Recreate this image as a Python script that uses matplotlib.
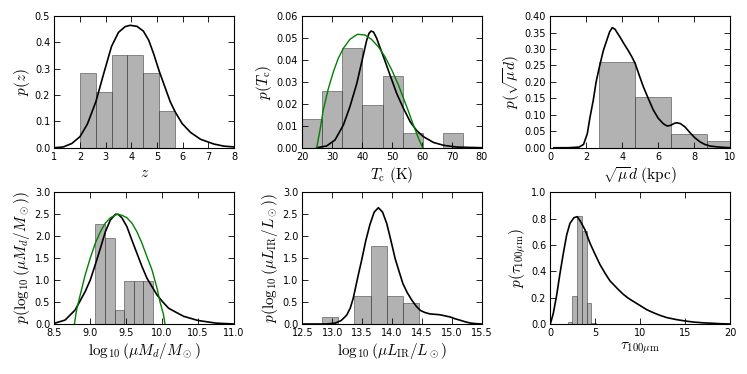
import matplotlib
matplotlib.use("Agg")
import matplotlib.pyplot as plt

plt.rcParams['mathtext.fontset'] = 'cm'
plt.rcParams['xtick.direction'] = 'in'
plt.rcParams['ytick.direction'] = 'in'
plt.rcParams['xtick.top'] = True
plt.rcParams['ytick.right'] = True
plt.rcParams['xtick.labelsize'] = 7
plt.rcParams['ytick.labelsize'] = 7
plt.rcParams['axes.linewidth'] = 0.8

# redshift
z_edges = [2.0, 2.617, 3.234, 3.851, 4.468, 5.085, 5.702]
z_hist = [0.283, 0.212, 0.354, 0.354, 0.283, 0.141]
z_x = [1.0, 1.35, 1.68, 2.0, 2.29, 2.62, 2.92, 3.23, 3.5, 3.76, 3.96, 4.22, 4.47,
       4.68, 4.87, 5.09, 5.33, 5.52, 5.71, 5.98, 6.31, 6.7, 7.22, 7.61, 8.0]
z_pdf = [0.0, 0.003, 0.016, 0.042, 0.09, 0.175, 0.28, 0.385, 0.438, 0.46, 0.465,
         0.461, 0.443, 0.408, 0.357, 0.29, 0.225, 0.174, 0.136, 0.092, 0.058, 0.032,
         0.014, 0.006, 0.003]

# dust temperature
t_edges = [20.0, 26.7, 33.4, 40.1, 46.8, 53.5, 60.2, 66.9, 73.6]
t_hist = [0.013, 0.026, 0.0455, 0.0195, 0.0325, 0.0065, 0.0, 0.0065]
t_x = [24.8, 28.1, 30.9, 33.7, 35.9, 38.2, 40.5, 41.5, 42.3, 43.0, 43.8, 44.8, 46.0,
       47.1, 49.3, 51.5, 53.8, 56.0, 58.2, 60.5, 63.8, 67.2, 71.6, 80.0]
t_pdf = [0.0, 0.0008, 0.0035, 0.0103, 0.0187, 0.0293, 0.043, 0.049, 0.0522, 0.0532,
         0.0527, 0.050, 0.0455, 0.0415, 0.0331, 0.0248, 0.0179, 0.0119, 0.0078, 0.005,
         0.0024, 0.0011, 0.0003, 0.0]
t_fit_x = [24.8, 25.9, 27.0, 28.7, 30.4, 32.0, 33.7, 35.9, 38.4, 40.9, 43.1, 45.4, 47.6,
           49.9, 52.1, 53.8, 55.5, 57.1, 58.8, 60.2]
t_fit = [0.0, 0.008, 0.0172, 0.027, 0.0347, 0.0407, 0.0453, 0.0494, 0.0517, 0.0514,
         0.0494, 0.046, 0.0415, 0.0354, 0.0286, 0.0225, 0.0164, 0.0103, 0.0043, 0.0]

# source size
d_edges = [2.73, 4.72, 6.71, 8.70, 10.69]
d_hist = [0.262, 0.153, 0.043, 0.021]
d_x = [0.2, 1.0, 1.6, 1.85, 2.06, 2.2, 2.39, 2.55, 2.73, 2.95, 3.14, 3.3, 3.45, 3.6,
       3.88, 4.1, 4.34, 4.55, 4.73, 4.95, 5.18, 5.45, 5.73, 6.0, 6.29, 6.5, 6.7, 6.9,
       7.05, 7.25, 7.5, 7.77, 8.05, 8.33, 8.6, 8.9, 9.4, 10.0]
d_pdf = [0.0, 0.0, 0.002, 0.01, 0.043, 0.09, 0.144, 0.2, 0.245, 0.295, 0.326, 0.352,
         0.365, 0.36, 0.336, 0.316, 0.295, 0.275, 0.255, 0.22, 0.185, 0.15, 0.115, 0.09,
         0.073, 0.066, 0.068, 0.074, 0.076, 0.073, 0.063, 0.046, 0.03, 0.018, 0.01,
         0.005, 0.002, 0.0]

# dust mass
m_edges = [9.073, 9.206, 9.339, 9.472, 9.605, 9.738, 9.871]
m_hist = [2.29, 1.96, 0.327, 0.98, 0.98, 0.98]
m_x = [8.5, 8.65, 8.79, 8.93, 9.0, 9.07, 9.14, 9.21, 9.28, 9.35, 9.39, 9.44, 9.51,
       9.58, 9.65, 9.72, 9.79, 9.86, 9.93, 10.0, 10.09, 10.19, 10.3, 10.5, 10.75, 11.0]
m_pdf = [0.015, 0.09, 0.32, 0.74, 1.0, 1.35, 1.72, 2.1, 2.37, 2.5, 2.5, 2.42, 2.22,
         1.91, 1.61, 1.31, 1.04, 0.85, 0.66, 0.52, 0.36, 0.27, 0.175, 0.08, 0.02, 0.0]
m_fit_x = [8.78, 8.81, 8.86, 8.93, 9.0, 9.07, 9.14, 9.21, 9.28, 9.37, 9.44, 9.51, 9.58,
           9.65, 9.72, 9.79, 9.86, 9.93, 9.97, 10.02, 10.04]
m_fit = [0.0, 0.32, 0.66, 1.12, 1.5, 1.84, 2.1, 2.3, 2.42, 2.5, 2.48, 2.42, 2.3, 2.1,
         1.84, 1.53, 1.23, 0.81, 0.51, 0.21, 0.0]

# IR luminosity
l_edges = [12.83, 13.10, 13.37, 13.64, 13.91, 14.18, 14.45]
l_hist = [0.161, 0.0, 0.644, 1.77, 0.644, 0.483]
l_x = [12.5, 12.9, 13.05, 13.15, 13.24, 13.3, 13.35, 13.44, 13.49, 13.56, 13.63, 13.7,
       13.77, 13.84, 13.91, 13.98, 14.05, 14.12, 14.18, 14.25, 14.33, 14.4, 14.47,
       14.55, 14.63, 14.72, 14.8, 14.9, 14.97, 15.05, 15.14, 15.22, 15.3, 15.4, 15.5]
l_pdf = [0.0, 0.0, 0.02, 0.08, 0.2, 0.36, 0.585, 1.15, 1.45, 1.9, 2.27, 2.55, 2.65,
         2.55, 2.29, 1.9, 1.49, 1.18, 0.92, 0.72, 0.54, 0.41, 0.31, 0.26, 0.23, 0.22,
         0.21, 0.18, 0.16, 0.12, 0.084, 0.05, 0.023, 0.008, 0.0]

# optical depth
tau_edges = [1.92, 2.45, 2.98, 3.51, 4.04, 4.57, 5.10]
tau_hist = [0.015, 0.215, 0.82, 0.708, 0.157, 0.01]
tau_x = [0.0, 0.33, 0.71, 1.08, 1.45, 1.82, 2.19, 2.64, 3.01, 3.38, 3.87, 4.42, 4.98,
         5.54, 6.1, 6.65, 7.1, 7.6, 8.13, 8.7, 9.24, 10.0, 10.73, 11.5, 12.2, 13.0,
         14.07, 15.0, 15.9, 17.0, 18.15, 19.0, 20.0]
tau_pdf = [0.0, 0.08, 0.22, 0.385, 0.537, 0.676, 0.765, 0.808, 0.815, 0.777, 0.714,
           0.613, 0.53, 0.45, 0.385, 0.327, 0.295, 0.26, 0.225, 0.195, 0.172, 0.14,
           0.109, 0.085, 0.066, 0.048, 0.033, 0.023, 0.015, 0.009, 0.005, 0.002, 0.0]

panels = [
    (z_edges, z_hist, z_x, z_pdf, None, None, (1, 8), (0, 0.5), 1, 0.1,
     r'$z$', r'$p(z)$', '%d', '%.1f'),
    (t_edges, t_hist, t_x, t_pdf, t_fit_x, t_fit, (20, 80), (0, 0.06), 10, 0.01,
     r'$T_{\rm c}\ ({\rm K})$', r'$p(T_{\rm c})$', '%d', '%.2f'),
    (d_edges, d_hist, d_x, d_pdf, None, None, (0, 10), (0, 0.4), 2, 0.05,
     r'$\sqrt{\mu}d\ ({\rm kpc})$', r'$p(\sqrt{\mu}d)$', '%d', '%.2f'),
    (m_edges, m_hist, m_x, m_pdf, m_fit_x, m_fit, (8.5, 11), (0, 3), 0.5, 0.5,
     r'$\log_{10}(\mu M_d/M_\odot)$', r'$p(\log_{10}(\mu M_d/M_\odot))$', '%.1f', '%.1f'),
    (l_edges, l_hist, l_x, l_pdf, None, None, (12.5, 15.5), (0, 3), 0.5, 0.5,
     r'$\log_{10}(\mu L_{\rm IR}/L_\odot)$', r'$p(\log_{10}(\mu L_{\rm IR}/L_\odot))$', '%.1f', '%.1f'),
    (tau_edges, tau_hist, tau_x, tau_pdf, None, None, (0, 20), (0, 1), 5, 0.2,
     r'$\tau_{100\mu{\rm m}}$', r'$p(\tau_{100\mu{\rm m}})$', '%d', '%.1f'),
]

lefts = [0.0727, 0.4047, 0.7367]
bottoms = [0.605, 0.1337]

fig = plt.figure(figsize=(7.47, 3.74), dpi=100)
for i, p in enumerate(panels):
    edges, hist, cx, cy, fx, fy, xl, yl, xs, ys, xlab, ylab, xf, yf = p
    ax = fig.add_axes([lefts[i % 3], bottoms[i // 3], 0.2405, 0.352])
    widths = [edges[k + 1] - edges[k] for k in range(len(hist))]
    ax.bar(edges[:-1], hist, widths, align='edge', color='grey', alpha=0.6,
           edgecolor='0.2', linewidth=0.6)
    ax.plot(cx, cy, color='k', lw=1.2)
    if fx is not None:
        ax.plot(fx, fy, color='g', lw=1.0)
    ax.set_xlim(xl)
    ax.set_ylim(yl)
    nx = int(round((xl[1] - xl[0]) / xs))
    ny = int(round((yl[1] - yl[0]) / ys))
    xt = [xl[0] + k * xs for k in range(nx + 1)]
    yt = [yl[0] + k * ys for k in range(ny + 1)]
    ax.set_xticks(xt)
    ax.set_yticks(yt)
    ax.set_xticklabels([xf % v for v in xt])
    ax.set_yticklabels([yf % v for v in yt])
    ax.tick_params(length=4, width=0.6, pad=3)
    ax.set_xlabel(xlab, fontsize=11, labelpad=2)
    ax.set_ylabel(ylab, fontsize=11, labelpad=2)

fig.savefig('out.png', dpi=100)
